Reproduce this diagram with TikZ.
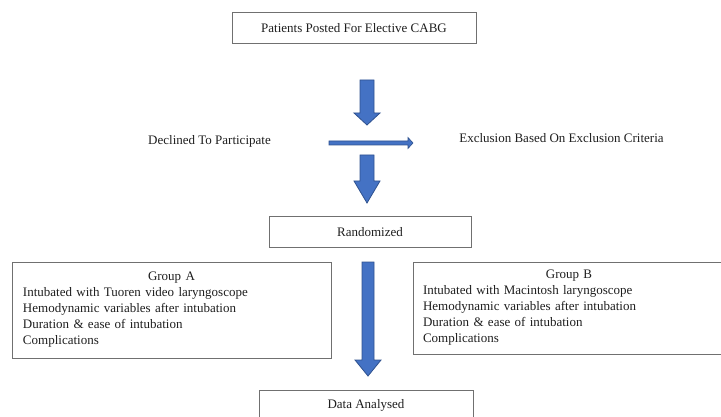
\documentclass[tikz,border=0pt]{standalone}
\usepackage{fontspec}
\setmainfont{Liberation Serif}
\usetikzlibrary{calc}

\definecolor{arrowblue}{HTML}{4472C4}
\definecolor{arrowedge}{HTML}{2F528F}
\definecolor{boxgray}{HTML}{707070}
\definecolor{textgray}{HTML}{1E1E1E}

% block arrow pointing down: top, tip, head length, shaft half width
\newcommand{\bluedown}[4]{%
	\draw[bluearrow] ($(#1)+(-#4,0)$) -- ($(#1)+(#4,0)$) -- ($(#2)+(#4,-#3)$) -- ($(#2)+(13,-#3)$) -- (#2)
		-- ($(#2)+(-13,-#3)$) -- ($(#2)+(-#4,-#3)$) -- cycle;}

\begin{document}
\begin{tikzpicture}[x=1pt, y=-1pt,
	every node/.style={font=\fontsize{13}{16}\selectfont, text=textgray},
	box/.style={draw=boxgray, line width=1pt, minimum height=31pt, inner sep=0pt},
	bluearrow/.style={fill=arrowblue, draw=arrowedge, line width=0.8pt, line join=miter}]
	\useasboundingbox (0,0) rectangle (721,417);
	% boxes
	\node[box, minimum width=244pt] (patients) at (354,28.5) {Patients Posted For Elective CABG};
	\node[box, minimum width=202pt] (random) at (370,232.5) {Randomized};
	\node[box, minimum width=319pt, minimum height=96pt, text width=297pt, align=left] (groupA) at (171.5,310)
		{\centering Group A\par\raggedright Intubated with Tuoren video laryngoscope\\Hemodynamic variables after intubation\\Duration \& ease of intubation\\Complications};
	\node[box, minimum width=312pt, minimum height=92pt, text width=292pt, align=left] (groupB) at (569,308)
		{\centering Group B\par\raggedright Intubated with Macintosh laryngoscope\\Hemodynamic variables after intubation\\Duration \& ease of intubation\\Complications};
	\node[box, minimum width=214pt] (data) at (366,405.5) {Data Analysed};
	% side texts
	\node (declined) at (209.5,141) {Declined To Participate};
	\node (exclusion) at (561.5,138) {Exclusion Based On Exclusion Criteria};
	% arrows
	\coordinate (a1top) at (367,80);   \coordinate (a1tip) at (367,125);
	\coordinate (a2top) at (367,155);  \coordinate (a2tip) at (367,203);
	\coordinate (a3top) at (368,262);  \coordinate (a3tip) at (368,376);
	\bluedown{a1top}{a1tip}{12}{7}
	\bluedown{a2top}{a2tip}{22}{7}
	\bluedown{a3top}{a3tip}{16}{6}
	\coordinate (hstart) at (329,143); \coordinate (htip) at (413,143);
	\draw[bluearrow, line width=0.6pt] ($(hstart)+(0,-2)$) -- ($(htip)+(-5,-2)$) -- ($(htip)+(-5,-5.5)$) -- (htip)
		-- ($(htip)+(-5,5.5)$) -- ($(htip)+(-5,2)$) -- ($(hstart)+(0,2)$) -- cycle;
\end{tikzpicture}
\end{document}
